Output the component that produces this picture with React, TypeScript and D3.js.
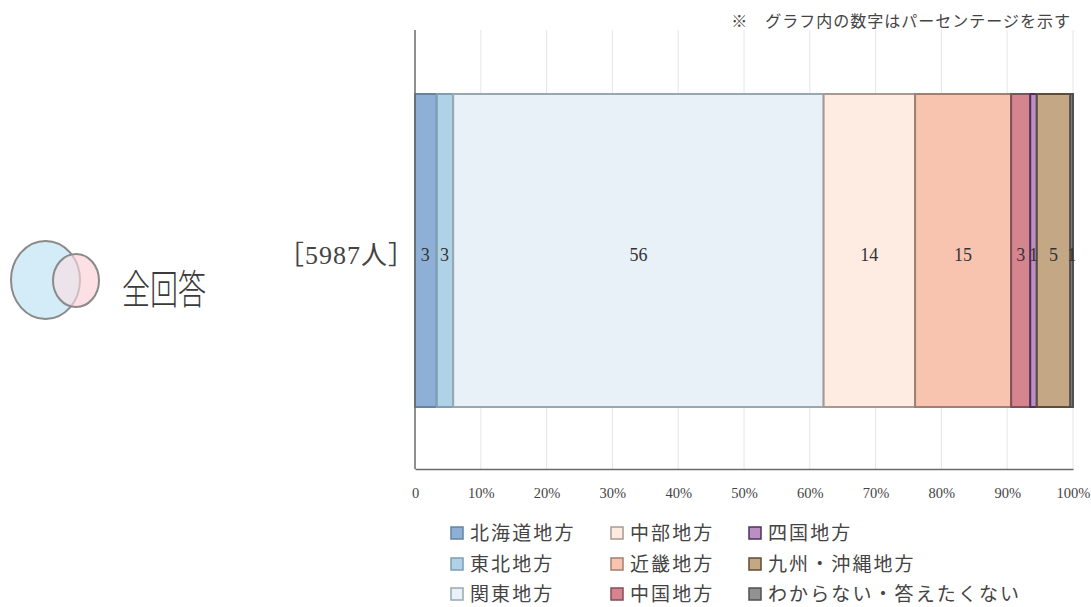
import React, { useRef, useEffect } from "react";
import * as d3 from "d3";

const regions = ["北海道地方", "東北地方", "関東地方", "中部地方", "近畿地方", "中国地方", "四国地方", "九州・沖縄地方", "わからない・答えたくない"];
const shares = [3.3, 2.5, 56.3, 13.9, 14.6, 2.9, 1.0, 5.1, 0.4];
const shareLabels = ["3", "3", "56", "14", "15", "3", "1", "5", "1"];
const fills = ["#8fb0d6", "#b0d2e6", "#e8f0f8", "#feece2", "#f8c4b0", "#d6858f", "#b890c4", "#c4a785", "#929292"];
const strokes = ["#64849f", "#7f9fb0", "#98a8b0", "#a89a92", "#a08070", "#805058", "#503060", "#604c38", "#505050"];
const axisTicks = [0, 10, 20, 30, 40, 50, 60, 70, 80, 90, 100];
const groupName = "全回答";
const groupCount = "5987人";
const note = "※　グラフ内の数字はパーセンテージを示す";

const W = 1091;
const H = 607;
const serif = "'Liberation Serif', 'Noto Sans CJK JP', serif";

const App = () => {
    const svgRef = useRef<SVGSVGElement>(null);

    useEffect(() => {
        const svg = d3.select(svgRef.current);
        svg.selectAll("*").remove();

        const x = d3.scaleLinear().domain([0, 100]).range([415, 1073]);
        const top = 30;
        const bottom = 469;

        // grid
        svg.append("g")
            .selectAll("line")
            .data(axisTicks.slice(1))
            .join("line")
            .attr("x1", d => x(d))
            .attr("x2", d => x(d))
            .attr("y1", top)
            .attr("y2", bottom)
            .attr("stroke", "#e6e6e6")
            .attr("stroke-width", 1);

        // stacked bar
        let sum = 0;
        const segs = shares.map((v, i) => {
            const s = { i, x0: sum, x1: sum + v };
            sum += v;
            return s;
        });
        const barTop = 94;
        const barBottom = 407;
        svg.append("g")
            .selectAll("rect")
            .data(segs)
            .join("rect")
            .attr("x", d => x(d.x0))
            .attr("y", barTop)
            .attr("width", d => x(d.x1) - x(d.x0))
            .attr("height", barBottom - barTop)
            .attr("fill", d => fills[d.i])
            .attr("stroke", d => strokes[d.i])
            .attr("stroke-width", 2);

        svg.append("g")
            .selectAll("text")
            .data(segs)
            .join("text")
            .attr("x", d => x((d.x0 + d.x1) / 2) - (d.i < 2 ? 0.5 : 0))
            .attr("y", 261)
            .attr("text-anchor", "middle")
            .attr("font-family", serif)
            .attr("font-size", 18)
            .attr("fill", "#333")
            .text(d => shareLabels[d.i]);

        // axes
        const axis = d3.axisBottom(x)
            .tickValues(axisTicks)
            .tickSize(0)
            .tickPadding(19)
            .tickFormat(d => (+d === 0 ? "0" : `${d}%`));
        const axisG = svg.append("g")
            .attr("transform", `translate(0, ${bottom})`)
            .call(axis);
        axisG.select(".domain").attr("stroke", "#6a6a6a").attr("stroke-width", 1.5);
        axisG.selectAll("text")
            .attr("font-family", serif)
            .attr("font-size", 14.5)
            .attr("fill", "#444");
        svg.append("line")
            .attr("x1", x(0))
            .attr("x2", x(0))
            .attr("y1", top)
            .attr("y2", bottom)
            .attr("stroke", "#6a6a6a")
            .attr("stroke-width", 1.5);

        // note
        svg.append("text")
            .attr("x", 1071)
            .attr("y", 27)
            .attr("text-anchor", "end")
            .attr("font-family", serif)
            .attr("font-size", 16)
            .attr("letter-spacing", 1)
            .attr("fill", "#444")
            .text(note);

        // legend
        const colX = [451, 611, 749];
        const rowY = [533, 564, 594];
        const legend = svg.append("g")
            .selectAll("g")
            .data(regions)
            .join("g")
            .attr("transform", (_, i) => `translate(${colX[Math.floor(i / 3)]}, ${rowY[i % 3]})`);
        legend.append("rect")
            .attr("x", 0)
            .attr("y", -6)
            .attr("width", 12)
            .attr("height", 12)
            .attr("fill", (_, i) => fills[i])
            .attr("stroke", (_, i) => strokes[i])
            .attr("stroke-width", 1.5);
        legend.append("text")
            .attr("x", 19)
            .attr("y", 7)
            .attr("font-family", serif)
            .attr("font-size", 19)
            .attr("letter-spacing", 2.1)
            .attr("fill", "#444")
            .text(d => d);

        // group label
        const venn = svg.append("g").attr("stroke", "#8a8a8a").attr("stroke-width", 2);
        venn.append("ellipse")
            .attr("cx", 76).attr("cy", 280.5).attr("rx", 23).attr("ry", 26.5)
            .attr("fill", "#fde0e4").attr("stroke", "none");
        venn.append("ellipse")
            .attr("cx", 45.5).attr("cy", 280).attr("rx", 34.5).attr("ry", 39)
            .attr("fill", "#cfeaf6").attr("fill-opacity", 0.9);
        venn.append("ellipse")
            .attr("cx", 76).attr("cy", 280.5).attr("rx", 23).attr("ry", 26.5)
            .attr("fill", "#fde0e4").attr("fill-opacity", 0.6);

        // tall narrow glyphs in the original
        svg.append("text")
            .attr("transform", "translate(122, 304) scale(1, 1.42)")
            .attr("font-family", "'Noto Sans CJK JP', sans-serif")
            .attr("font-size", 28)
            .attr("font-weight", 300)
            .attr("fill", "#3a3a3a")
            .text(groupName);

        svg.append("text")
            .attr("x", 415)
            .attr("y", 264)
            .attr("text-anchor", "end")
            .attr("font-family", serif)
            .attr("font-size", 26)
            .attr("letter-spacing", 1)
            .attr("fill", "#444")
            .text(`［${groupCount}］`);
    }, []);

    return (
        <svg ref={svgRef} width={W} height={H} style={{ position: "absolute", left: 0, top: 0, background: "#fff" }} />
    );
};

export default App;
